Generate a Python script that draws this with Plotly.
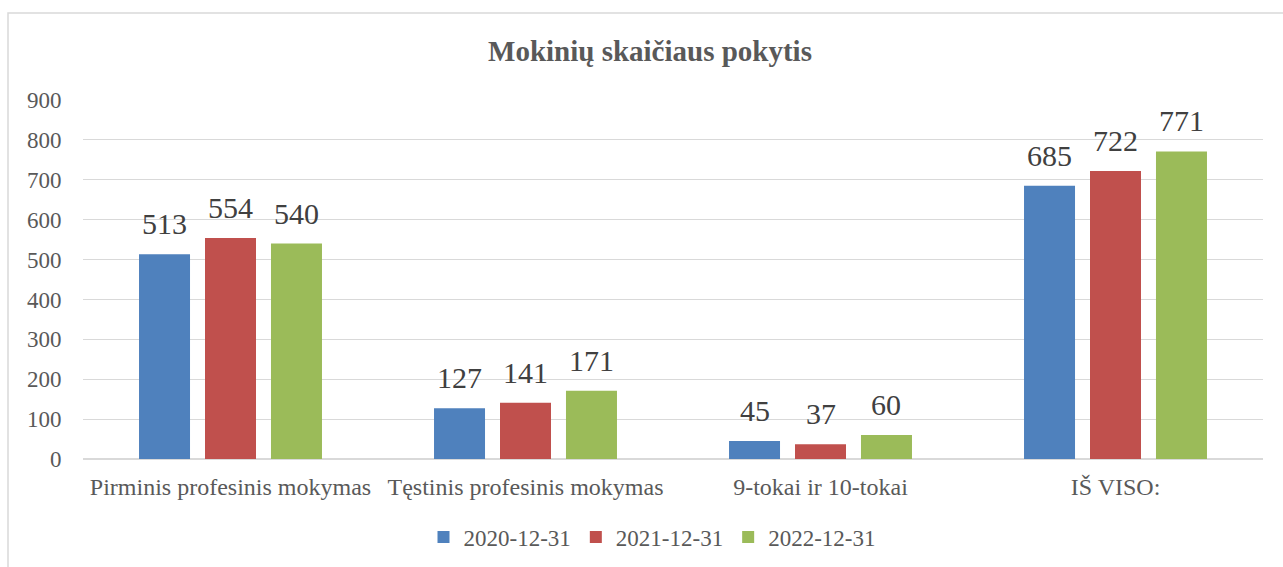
import plotly.graph_objects as go

categories = ["Pirminis profesinis mokymas", "Tęstinis profesinis mokymas", "9-tokai ir 10-tokai", "IŠ VISO:"]
series_names = ["2020-12-31", "2021-12-31", "2022-12-31"]
values_2020 = [513, 127, 45, 685]
values_2021 = [554, 141, 37, 722]
values_2022 = [540, 171, 60, 771]
y_ticks = [0, 100, 200, 300, 400, 500, 600, 700, 800, 900]

colors = ["#4F81BD", "#C0504D", "#9BBB59"]
FONT = "Liberation Serif"

W, H = 1283, 567
L, R, T, B = 83, 20, 100, 108
BARGAP = 0.329
BARGROUPGAP = 0.227

fig = go.Figure()
all_series = [values_2020, values_2021, values_2022]
for name, vals, col in zip(series_names, all_series, colors):
    fig.add_trace(go.Bar(
        x=categories, y=vals, name=name,
        marker=dict(color=col, line=dict(width=0)),
    ))

pw = W - L - R
ph = H - T - B
def px_x(p):
    return (p - L) / pw
def px_y(p):
    return (H - B - p) / ph

# data labels as annotations, offset by the group slot width
group_px = pw / len(categories)
pitch = (1 - BARGAP) * group_px / len(series_names)
annotations = []
for i, vals in enumerate(all_series):
    for c, v in zip(categories, vals):
        annotations.append(dict(
            x=c, y=v, xref="x", yref="y", text=str(v), showarrow=False,
            xanchor="center", yanchor="bottom", xshift=(i - 1) * pitch, yshift=12,
            font=dict(family=FONT, size=30, color="#404040"),
        ))

fig.update_layout(
    width=W, height=H,
    margin=dict(l=L, r=R, t=T, b=B, autoexpand=False),
    paper_bgcolor="white", plot_bgcolor="white",
    barmode="group", bargap=BARGAP, bargroupgap=BARGROUPGAP,
    font=dict(family=FONT, size=23, color="#595959"),
    title=dict(text="<b>Mokinių skaičiaus pokytis</b>", x=650 / W, y=1 - 51 / H,
               xanchor="center", yanchor="middle",
               font=dict(family=FONT, size=29, color="#595959")),
    legend=dict(orientation="h", x=px_x(652), y=px_y(537), xanchor="center", yanchor="middle",
                font=dict(family=FONT, size=23, color="#595959"), traceorder="normal"),
    showlegend=True,
    annotations=annotations,
    shapes=[dict(type="rect", xref="paper", yref="paper",
                 x0=px_x(8), x1=px_x(1300), y0=px_y(600), y1=px_y(13),
                 line=dict(color="#D9D9D9", width=1.5), fillcolor="rgba(0,0,0,0)", layer="below")],
)
fig.update_xaxes(showgrid=False, showline=False, zeroline=False, automargin=False,
                 ticks="outside", ticklen=6, tickcolor="rgba(0,0,0,0)",
                 tickfont=dict(family=FONT, size=24, color="#595959"))
fig.update_yaxes(range=[0, 900], tickvals=y_ticks, showgrid=True, gridcolor="#D9D9D9", gridwidth=1.2,
                 zeroline=True, zerolinecolor="#D9D9D9", zerolinewidth=1.5, automargin=False,
                 showline=False, ticks="outside", ticklen=16, tickcolor="rgba(0,0,0,0)",
                 tickfont=dict(family=FONT, size=23, color="#595959"))

fig.write_html("out.html", config={"displayModeBar": False},
               post_script="document.body.style.margin='0';document.body.style.padding='0';")
